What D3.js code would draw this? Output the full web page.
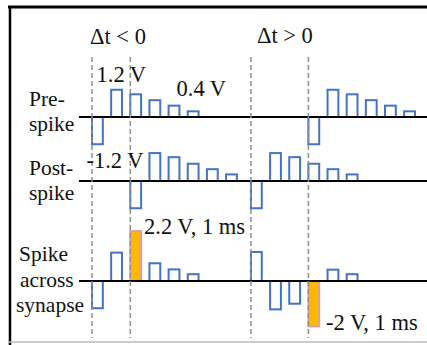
<!DOCTYPE html>
<html>
<head>
<meta charset="utf-8">
<script src="https://cdn.jsdelivr.net/npm/d3@7"></script>
</head>
<body style="margin:0; background:#fff">
<svg width="427" height="345"></svg>
<script>
// pulse amplitudes in volts, one pulse per time slot
const preSpike = [-1.2, 1.2, 1.0, 0.74, 0.5, 0.25];
const postSpike = [-1.2, 1.23, 1.05, 0.76, 0.52, 0.29];
const synLeft = [-1.2, 1.25, 2.2, 0.78, 0.51, 0.3];
const synRight = [1.28, -1.25, -1.0, -2.0, 0.5, 0.3];

// slot where each case starts, and first slot of every waveform per case
const caseOffset = [0, 8.3];
const preStart = [0, 3];
const postStart = [2, 0];
const synHighlight = [2, 3];
const markerSlots = [[0, 2], [0, 3]];

const caseLabels = ['\u0394t < 0', '\u0394t > 0'];
const rowLabels = [['Pre-', 'spike'], ['Post-', 'spike'], ['Spike', 'across', 'synapse']];

const serif = "'Liberation Serif'";

let svg = d3.select('svg');

let x = d3.scaleLinear().domain([0, 17]).range([92, 92 + 17 * 19.15]);
let pulseW = x(0.565) - x(0);
let pxPerVolt = 22.7;
let baseY = [117, 181, 281];
let yRow = baseY.map(function(b) {
  return d3.scaleLinear().domain([0, 1]).range([b, b - pxPerVolt]);
});

// frame
svg.append('line').attr('x1', 8).attr('x2', 427).attr('y1', 7).attr('y2', 7)
  .attr('stroke', '#000').attr('stroke-width', 3);
svg.append('line').attr('x1', 10).attr('x2', 10).attr('y1', 6).attr('y2', 345)
  .attr('stroke', '#000').attr('stroke-width', 2.5);
svg.append('line').attr('x1', 9).attr('x2', 427).attr('y1', 342).attr('y2', 342)
  .attr('stroke', '#bbb').attr('stroke-width', 1.5);

// build pulse list
let pulses = [];
[0, 1].forEach(function(c) {
  preSpike.forEach(function(v, i) {
    pulses.push({ row: 0, t: caseOffset[c] + preStart[c] + i, v: v, hi: false });
  });
  postSpike.forEach(function(v, i) {
    pulses.push({ row: 1, t: caseOffset[c] + postStart[c] + i, v: v, hi: false });
  });
  (c === 0 ? synLeft : synRight).forEach(function(v, i) {
    pulses.push({ row: 2, t: caseOffset[c] + i, v: v, hi: i === synHighlight[c] });
  });
});

svg.append('g')
  .selectAll('rect')
  .data(pulses)
  .enter().append('rect')
  .attr('x', function(d) { return x(d.t); })
  .attr('width', pulseW)
  .attr('y', function(d) { return Math.min(yRow[d.row](d.v), yRow[d.row](0)); })
  .attr('height', function(d) { return Math.abs(yRow[d.row](d.v) - yRow[d.row](0)); })
  .attr('fill', function(d) { return d.hi ? '#FFB800' : 'none'; })
  .attr('stroke', function(d) { return d.hi ? '#D9A0A0' : '#4472C4'; })
  .attr('stroke-width', 2);

// baselines
svg.append('g')
  .selectAll('line')
  .data(baseY)
  .enter().append('line')
  .attr('x1', 79).attr('x2', 427)
  .attr('y1', function(d) { return d; })
  .attr('y2', function(d) { return d; })
  .attr('stroke', '#000')
  .attr('stroke-width', 2);

// dashed time markers
let markers = [];
markerSlots.forEach(function(m, c) {
  m.forEach(function(s) { markers.push(caseOffset[c] + s); });
});
svg.append('g')
  .selectAll('line')
  .data(markers)
  .enter().append('line')
  .attr('x1', function(d) { return x(d); })
  .attr('x2', function(d) { return x(d); })
  .attr('y1', 57).attr('y2', 338)
  .attr('stroke', '#8f8f8f')
  .attr('stroke-width', 1.5)
  .attr('stroke-dasharray', '5 3');

// case titles
svg.append('g')
  .selectAll('text')
  .data(caseLabels)
  .enter().append('text')
  .attr('x', function(d, i) { return x(caseOffset[i]) - 2 + i * 8; })
  .attr('y', function(d, i) { return i === 0 ? 44 : 43; })
  .style('font-family', serif)
  .style('font-size', '22.5px')
  .attr('fill', '#111')
  .text(function(d) { return d; });

// row labels
let rowX = [[29, 29], [29, 29], [19, 20, 16]];
let rowY = [[106, 131], [175, 200], [261, 287, 312]];
rowLabels.forEach(function(lines, r) {
  svg.append('g')
    .selectAll('text')
    .data(lines)
    .enter().append('text')
    .attr('x', function(d, i) { return rowX[r][i]; })
    .attr('y', function(d, i) { return rowY[r][i]; })
    .style('font-family', serif)
    .style('font-size', '21.5px')
    .attr('fill', '#111')
    .text(function(d) { return d; });
});

// annotations
let notes = [
  { text: '1.2 V', x: 96.5, y: 82 },
  { text: '0.4 V', x: 176.5, y: 96 },
  { text: '-1.2 V', x: 86.5, y: 168 },
  { text: '2.2 V, 1 ms', x: 144, y: 234 },
  { text: '-2 V, 1 ms', x: 326, y: 330 }
];
svg.append('g')
  .selectAll('text')
  .data(notes)
  .enter().append('text')
  .attr('x', function(d) { return d.x; })
  .attr('y', function(d) { return d.y; })
  .style('font-family', serif)
  .style('font-size', '22.5px')
  .attr('fill', '#111')
  .text(function(d) { return d.text; });
</script>
</body>
</html>
